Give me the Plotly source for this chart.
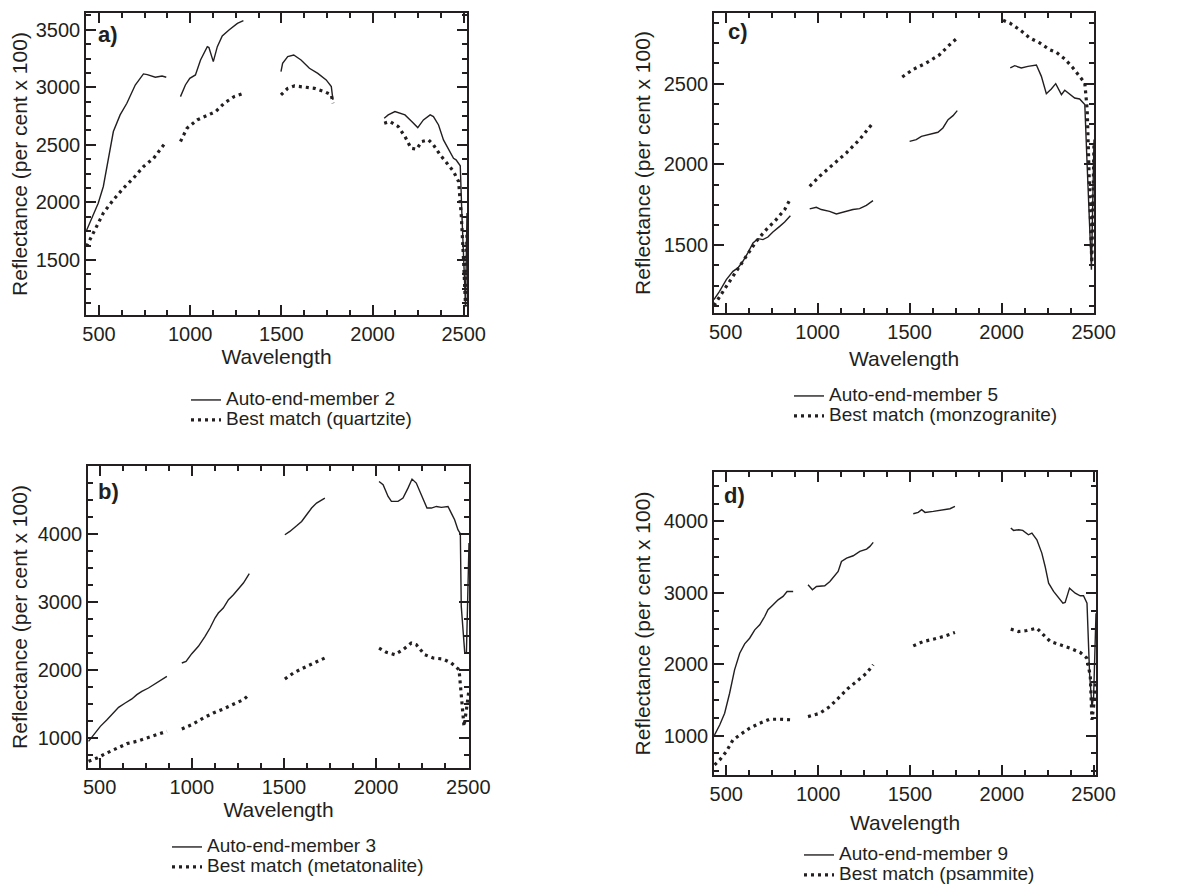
import plotly.graph_objects as go

# panel a) auto-end-member 2 vs quartzite
a_wl_em = [430, 460, 496, 524, 551, 579, 616, 653, 699, 744, 765, 809, 846, 869, None,
           947, 974, 998, 1029, 1057, 1094, 1103, 1127, 1149, 1176, 1213, 1259, 1292, None,
           1498, 1507, 1535, 1568, 1608, 1654, 1700, 1746, 1774, 1783, None,
           2064, 2086, 2123, 2178, 2215, 2248, 2279, 2316, 2334, 2362, 2389, 2417, 2444,
           2458, 2481, 2490, 2505, 2510, 2518]
a_em = [1750, 1864, 1994, 2139, 2370, 2616, 2760, 2861, 3020, 3116, 3110, 3087, 3098, 3087, None,
        2919, 3020, 3078, 3107, 3237, 3353, 3345, 3223, 3353, 3445, 3497, 3555, 3578, None,
        3136, 3208, 3266, 3280, 3237, 3165, 3121, 3064, 3006, 2890, None,
        2731, 2760, 2789, 2760, 2702, 2650, 2717, 2760, 2746, 2673, 2543, 2457, 2384,
        2370, 2318, 1900, 1150, 1098, 1908]
a_wl_match = [432, 469, 524, 579, 634, 689, 744, 800, 869, None,
              947, 983, 1039, 1094, 1140, 1186, 1241, 1292, None,
              1498, 1535, 1572, 1627, 1682, 1737, 1774, 1783, None,
              2064, 2095, 2141, 2178, 2211, 2242, 2270, 2307, 2334, 2371, 2408, 2444,
              2472, 2487, 2499, 2510, 2518]
a_match = [1619, 1734, 1908, 2023, 2124, 2211, 2312, 2384, 2529, None,
           2529, 2645, 2717, 2760, 2789, 2861, 2919, 2948, None,
           2934, 2991, 3012, 3000, 2991, 2962, 2934, 2861, None,
           2688, 2702, 2659, 2572, 2471, 2462, 2529, 2543, 2500, 2413, 2341, 2269,
           2182, 1879, 1503, 1098, 1734]

# panel b) auto-end-member 3 vs metatonalite
b_wl_em = [440, 467, 504, 540, 576, 603, 639, 675, 702, 729, 765, 801, 838, 865, None,
           946, 969, 1000, 1036, 1072, 1099, 1126, 1144, 1171, 1199, 1226, 1253, 1280, 1312, None,
           1505, 1532, 1569, 1596, 1623, 1650, 1677, 1722, None,
           2016, 2038, 2065, 2083, 2119, 2146, 2173, 2195, 2218, 2245, 2276, 2300, 2327,
           2354, 2390, 2408, 2426, 2444, 2457, 2462, 2481, 2490, 2504]
b_em = [951, 1049, 1171, 1269, 1377, 1450, 1514, 1573, 1636, 1685, 1734, 1798, 1856, 1905, None,
        2101, 2126, 2238, 2346, 2493, 2615, 2762, 2835, 2909, 3031, 3104, 3188, 3276, 3413, None,
        3985, 4034, 4117, 4181, 4279, 4377, 4450, 4524, None,
        4768, 4719, 4548, 4475, 4475, 4524, 4670, 4803, 4744, 4573, 4377, 4377, 4401,
        4387, 4401, 4303, 4206, 4059, 4000, 2933, 2248, 2248, 3863]
b_wl_match = [440, 486, 540, 594, 648, 702, 757, 810, 865, None,
              946, 1000, 1063, 1117, 1171, 1226, 1280, 1312, None,
              1505, 1551, 1605, 1659, 1722, None,
              2016, 2056, 2101, 2146, 2191, 2218, 2263, 2309, 2363, 2408, 2450,
              2462, 2477, 2490, 2504]
b_match = [657, 706, 780, 853, 917, 951, 1000, 1049, 1098, None,
           1132, 1196, 1294, 1367, 1426, 1489, 1563, 1636, None,
           1866, 1954, 2028, 2101, 2175, None,
           2321, 2258, 2224, 2297, 2395, 2370, 2224, 2175, 2160, 2101, 2003,
           1563, 1171, 1416, 1710]

# panel c) auto-end-member 5 vs monzogranite
c_wl_em = [437, 467, 504, 540, 567, 594, 621, 649, 676, 703, 730, 757, 794, 821, 852, None,
           957, 993, 1020, 1065, 1102, 1138, 1192, 1228, 1265, 1301, None,
           1500, 1536, 1564, 1609, 1654, 1681, 1709, 1736, 1759, None,
           2047, 2071, 2107, 2143, 2189, 2216, 2243, 2270, 2294, 2325, 2343, 2370, 2397,
           2424, 2452, 2465, 2479, 2488, 2502]
c_em = [1164, 1215, 1288, 1339, 1360, 1401, 1453, 1514, 1541, 1535, 1551, 1582, 1617, 1644, 1683, None,
        1725, 1735, 1721, 1710, 1694, 1706, 1721, 1727, 1747, 1776, None,
        2143, 2154, 2174, 2185, 2199, 2226, 2277, 2302, 2333, None,
        2597, 2611, 2597, 2607, 2615, 2545, 2438, 2467, 2500, 2432, 2459, 2432, 2411,
        2405, 2370, 1989, 1576, 1349, 2154]
c_wl_match = [437, 467, 504, 558, 612, 667, 721, 775, 821, 852, None,
              957, 1011, 1083, 1156, 1228, 1301, None,
              1460, 1518, 1591, 1663, 1718, 1759, None,
              2008, 2044, 2098, 2153, 2207, 2261, 2297, 2343, 2388, 2424, 2452,
              2465, 2479, 2490, 2502]
c_match = [1127, 1184, 1246, 1339, 1432, 1525, 1597, 1659, 1721, 1787, None,
           1865, 1927, 1999, 2071, 2154, 2257, None,
           2541, 2587, 2628, 2679, 2741, 2782, None,
           2892, 2875, 2834, 2782, 2752, 2710, 2694, 2653, 2597, 2545, 2504,
           2339, 1865, 1391, 2133]

# panel d) auto-end-member 9 vs psammite
d_wl_em = [436, 464, 491, 518, 545, 573, 600, 627, 655, 682, 709, 727, 755, 782, 809, 831, 864, None,
           945, 969, 991, 1036, 1064, 1091, 1109, 1127, 1155, 1191, 1227, 1264, 1282, 1300, None,
           1518, 1545, 1564, 1582, 1627, 1682, 1718, 1745, None,
           2049, 2064, 2091, 2114, 2145, 2164, 2191, 2218, 2236, 2255, 2282, 2309, 2333,
           2345, 2369, 2400, 2427, 2445, 2464, 2478, 2491, 2500, 2513]
d_em = [1009, 1149, 1313, 1593, 1920, 2154, 2285, 2364, 2481, 2551, 2668, 2762, 2832, 2902, 2949, 3019, 3019, None,
        3112, 3042, 3089, 3098, 3159, 3252, 3299, 3439, 3486, 3519, 3579, 3612, 3650, 3706, None,
        4107, 4126, 4164, 4126, 4140, 4164, 4178, 4210, None,
        3907, 3874, 3883, 3874, 3813, 3836, 3743, 3556, 3369, 3135, 3019, 2925, 2855,
        2864, 3065, 2995, 2958, 2958, 2855, 1874, 1406, 1547, 2715]
d_wl_match = [436, 464, 500, 536, 573, 627, 682, 736, 791, 864, None,
              945, 1009, 1064, 1118, 1164, 1209, 1264, 1300, None,
              1518, 1573, 1627, 1682, 1745, None,
              2049, 2091, 2136, 2191, 2227, 2264, 2318, 2373, 2427, 2464,
              2482, 2491, 2500, 2513]
d_match = [589, 659, 776, 939, 1009, 1103, 1173, 1229, 1229, 1220, None,
           1266, 1313, 1406, 1547, 1664, 1757, 1874, 1991, None,
           2257, 2318, 2350, 2388, 2444, None,
           2491, 2458, 2472, 2505, 2411, 2318, 2271, 2224, 2164, 2084,
           1827, 1220, 1406, 1780]

# page body keeps an 8px margin, so the figure is 8px smaller and positions are shifted
OFF = 8
W, H = 1198 - OFF, 886 - OFF
ink = "#231f20"
font = "Liberation Sans, Arial, sans-serif"

# label, names, data, axis suffix, box in window px, x range, y range, y major/minor step,
# legend id, legend top-left in window px, x-title standoff, y-title standoff, label pos
panels = [
    ("a)", "Auto-end-member 2", "Best match (quartzite)", a_wl_em, a_em, a_wl_match, a_match,
     "", (86, 467, 13, 315), [429, 2518], [1023, 3645], 500, 125, "legend", (186, 385), 0, 12, (0.026, 0.93)),
    ("c)", "Auto-end-member 5", "Best match (monzogranite)", c_wl_em, c_em, c_wl_match, c_match,
     "2", (714, 1094, 13, 313), [437, 2502], [1081, 2937], 500, 125, "legend2", (789, 381), 10, 7, (0.032, 0.94)),
    ("b)", "Auto-end-member 3", "Best match (metatonalite)", b_wl_em, b_em, b_wl_match, b_match,
     "3", (88, 469, 466, 768), [437, 2504], [559, 4995], 1000, 250, "legend3", (167, 832), 0, 12, (0.021, 0.914)),
    ("d)", "Auto-end-member 9", "Best match (psammite)", d_wl_em, d_em, d_wl_match, d_match,
     "4", (714, 1096, 472, 775), [433, 2513], [448, 4692], 1000, 250, "legend4", (799, 840), 12, 7, (0.021, 0.921)),
]

fig = go.Figure()
layout = {}
for (lab, em_name, m_name, wl_em, em, wl_m, m, sfx, box, xr, yr, ymaj, ymin, leg, lpos, xso, yso, lp) in panels:
    xa, ya = "x" + sfx, "y" + sfx
    span = '<span style="font-size:19px">%s</span>'
    fig.add_trace(go.Scatter(x=wl_em, y=em, mode="lines", name=span % em_name, xaxis=xa, yaxis=ya,
                             line=dict(color=ink, width=1.4), legend=leg, connectgaps=False))
    fig.add_trace(go.Scatter(x=wl_m, y=m, mode="lines", name=span % m_name, xaxis=xa, yaxis=ya,
                             line=dict(color=ink, width=3.2, dash="3px,4px"), legend=leg, connectgaps=False))
    x0, x1, y0, y1 = [v - OFF for v in box]
    common = dict(showline=True, linewidth=1.5, linecolor=ink, mirror="ticks", ticks="inside",
                  ticklen=10, tickwidth=1.8, tickcolor=ink, showgrid=False, zeroline=False,
                  automargin=False, tickmode="linear",
                  tickfont=dict(size=20, color=ink, family=font))
    layout["xaxis" + sfx] = dict(common, domain=[x0 / W, x1 / W], range=xr, anchor=ya,
                                 tick0=500, dtick=500,
                                 minor=dict(tick0=500, dtick=125, ticks="inside", ticklen=5,
                                            tickwidth=1.5, tickcolor=ink),
                                 title=dict(text="Wavelength", font=dict(size=21, color=ink, family=font),
                                            standoff=xso))
    layout["yaxis" + sfx] = dict(common, domain=[1 - y1 / H, 1 - y0 / H], range=yr, anchor=xa,
                                 tick0=0, dtick=ymaj,
                                 minor=dict(tick0=0, dtick=ymin, ticks="inside", ticklen=5,
                                            tickwidth=1.5, tickcolor=ink),
                                 title=dict(text="Reflectance (per cent x 100)",
                                            font=dict(size=21, color=ink, family=font), standoff=yso))
    layout[leg] = dict(x=(lpos[0] - OFF) / W, y=1 - (lpos[1] - OFF) / H, xanchor="left", yanchor="top",
                       bgcolor="rgba(0,0,0,0)", font=dict(size=13, color=ink, family=font),
                       tracegroupgap=0, itemwidth=30)
    fig.add_annotation(text="<b>" + lab + "</b>", xref=xa + " domain", yref=ya + " domain",
                       x=lp[0], y=lp[1], xanchor="left", yanchor="middle", showarrow=False,
                       font=dict(size=22, color=ink, family=font))

fig.update_layout(width=W, height=H, margin=dict(l=0, r=0, t=0, b=0, autoexpand=False),
                  paper_bgcolor="white", plot_bgcolor="white", showlegend=True, **layout)
fig.write_html("out.html")
